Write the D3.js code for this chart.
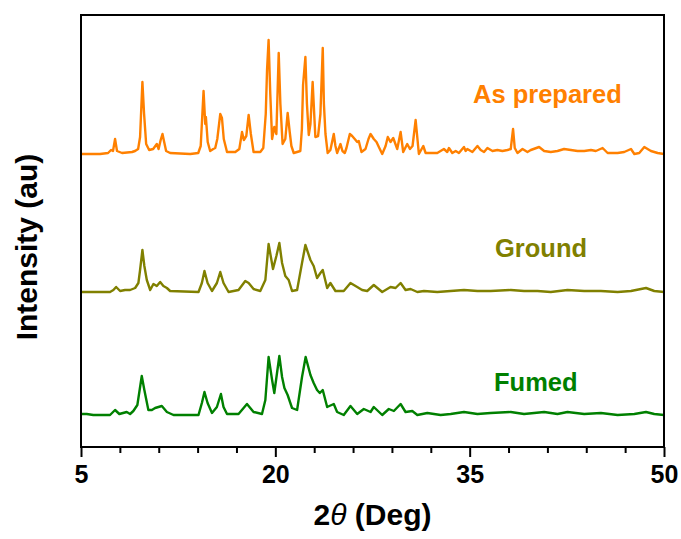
<!DOCTYPE html>
<html>
<head>
<meta charset="utf-8">
<script src="https://cdn.jsdelivr.net/npm/d3@7"></script>
<style>
  html, body { margin: 0; padding: 0; background: #fff; }
  svg { display: block; }
</style>
</head>
<body>
<svg id="chart" width="681" height="539"></svg>
<script>
// ---- Data (2theta in degrees, intensity in arbitrary units above each trace baseline) ----
const seriesNames = ["As prepared", "Ground", "Fumed"];
const seriesColors = ["#FF8000", "#808000", "#008000"];
const seriesOffsets = [293, 155, 32];

const asPrepared2theta = [5.00,6.47,7.09,7.32,7.47,7.63,7.78,8.17,8.94,9.17,9.41,9.56,9.74,9.87,10.03,10.26,10.57,10.85,10.99,11.15,11.29,11.42,11.57,11.88,13.43,14.05,14.24,14.46,14.59,14.64,14.78,14.97,15.21,15.36,15.52,15.75,15.88,16.02,16.27,16.91,17.22,17.43,17.57,17.76,17.94,18.11,18.32,18.84,19.07,19.26,19.36,19.48,19.61,19.75,19.92,20.08,20.26,20.39,20.56,20.77,20.95,21.11,21.24,21.42,21.93,22.05,22.14,22.32,22.44,22.58,22.71,22.88,23.02,23.09,23.30,23.48,23.66,23.75,23.87,24.04,24.25,24.51,24.64,24.77,25.03,25.18,25.36,25.49,25.75,25.93,26.13,26.32,26.44,26.65,26.96,27.19,27.35,27.60,27.81,27.99,28.25,28.51,28.68,28.89,29.10,29.41,29.67,29.87,30.18,30.39,30.59,30.83,31.08,31.42,31.60,31.99,32.50,33.01,33.27,33.40,33.66,33.92,34.17,34.56,34.69,34.82,35.21,35.60,35.85,36.11,36.37,36.76,37.14,37.53,37.92,38.17,38.35,38.48,38.69,39.08,39.46,39.72,40.36,40.75,41.26,41.78,42.29,42.81,43.33,43.84,44.36,44.74,45.26,45.65,46.42,46.93,47.45,47.71,48.09,48.48,48.99,49.51,50.00];
const asPreparedIntensity = [0,0,1,4,3,15,3,1,2,3,5,17,72,40,10,4,5,10,5,14,20,12,3,1,0,1,8,63,30,37,12,3,5,6,15,40,36,15,2,2,5,22,14,18,39,20,2,2,6,40,84,114,60,15,27,20,101,50,10,15,41,22,8,1,3,25,69,97,50,19,30,72,35,17,18,40,106,50,20,1,4,20,8,1,10,3,1,6,20,18,15,12,13,2,5,15,20,15,12,7,0,8,17,12,16,5,22,2,10,5,8,34,0,8,1,1,1,5,2,6,1,3,1,7,3,5,2,8,4,2,6,3,4,3,4,5,25,6,1,5,2,4,7,3,2,3,5,4,3,3,4,3,6,1,1,2,5,0,1,7,3,1,0];

const ground2theta = [5.00,7.24,7.50,7.71,8.02,8.40,8.79,9.18,9.43,9.56,9.74,9.89,10.08,10.34,10.59,10.85,11.11,11.36,11.63,11.88,14.07,14.33,14.53,14.77,15.11,15.49,15.75,16.00,16.39,17.16,17.68,17.94,18.32,18.84,19.23,19.48,19.82,20.08,20.31,20.52,20.77,21.03,21.29,21.68,22.06,22.32,22.71,22.96,23.22,23.48,23.66,24.00,24.25,24.64,25.28,25.80,26.32,26.70,27.09,27.60,28.25,28.89,29.28,29.67,30.05,30.44,30.96,31.47,32.50,33.53,34.56,35.60,36.62,38.17,39.20,40.23,41.26,42.55,43.84,45.13,46.42,47.45,48.61,49.25,50.00];
const groundIntensity = [0,0,2,5,1,2,2,4,9,22,42,26,12,2,8,6,10,6,4,1,0,9,21,9,1,9,20,9,0,2,11,9,3,1,12,48,23,36,49,29,16,12,1,2,29,47,32,26,14,19,22,4,9,1,1,9,5,2,1,7,0,5,4,9,2,3,0,1,0,1,2,1,1,2,1,1,0,2,1,1,0,1,4,1,0];

const fumed2theta = [5.00,5.44,5.95,7.24,7.63,7.96,8.53,8.79,9.04,9.35,9.69,9.89,10.20,10.47,10.72,10.98,11.24,11.63,12.14,14.07,14.33,14.53,14.77,15.11,15.49,15.80,16.00,16.27,17.16,17.55,17.81,18.32,18.97,19.23,19.48,19.75,19.92,20.13,20.31,20.52,20.70,20.95,21.29,21.68,22.06,22.34,22.71,22.96,23.22,23.43,23.66,24.00,24.51,24.77,25.28,25.80,26.32,26.83,27.35,27.60,28.25,28.76,29.15,29.67,30.05,30.57,30.96,31.73,32.76,33.53,34.56,35.60,36.62,38.17,39.20,40.75,41.78,42.55,43.84,45.13,46.42,47.71,48.61,49.25,50.00];
const fumedIntensity = [1,1,0,0,5,1,3,1,4,10,39,25,5,5,7,8,9,3,0,0,12,23,12,2,8,21,8,1,1,7,11,3,1,15,58,35,22,42,59,38,27,20,7,5,38,58,40,32,25,22,25,8,11,3,0,9,1,6,3,8,0,6,4,11,3,4,0,2,0,1,3,1,2,3,1,3,1,3,1,2,0,1,3,1,0];

const xMajorTicks = [5, 20, 35, 50];
const xMinorTicks = [8, 11, 14, 17, 23, 26, 29, 32, 38, 41, 44, 47];

// ---- Layout ----
const svg = d3.select("#chart");
const pL = 81, pR = 664, pT = 15, pB = 447;

const x = d3.scaleLinear().domain([5, 50]).range([pL, pR]);
const y = d3.scaleLinear().domain([0, 432]).range([pB, pT]);

const seriesData = [
  d3.zip(asPrepared2theta, asPreparedIntensity),
  d3.zip(ground2theta, groundIntensity),
  d3.zip(fumed2theta, fumedIntensity)
];

svg.append("clipPath").attr("id", "plotclip")
  .append("rect").attr("x", pL).attr("y", pT).attr("width", pR - pL).attr("height", pB - pT);

const g = svg.append("g").attr("clip-path", "url(#plotclip)");
seriesData.forEach((d, i) => {
  const line = d3.line().x(p => x(p[0])).y(p => y(p[1] + seriesOffsets[i]));
  g.append("path")
    .datum(d)
    .attr("fill", "none")
    .attr("stroke", seriesColors[i])
    .attr("stroke-width", 2.4)
    .attr("stroke-linejoin", "round")
    .attr("d", line);
});

// Frame
svg.append("rect")
  .attr("x", pL).attr("y", pT)
  .attr("width", pR - pL).attr("height", pB - pT)
  .attr("fill", "none").attr("stroke", "#000").attr("stroke-width", 2);

// X axis (major)
const xAxis = d3.axisBottom(x).tickValues(xMajorTicks).tickSize(10).tickPadding(8).tickFormat(d3.format("d"));
const ax = svg.append("g").attr("transform", `translate(0,${pB})`).call(xAxis);
ax.select(".domain").remove();
ax.selectAll(".tick line").attr("stroke", "#000").attr("stroke-width", 2);
ax.selectAll(".tick text")
  .attr("font-family", "'Liberation Sans', Arial, sans-serif")
  .attr("font-weight", "bold")
  .attr("font-size", 25)
  .attr("fill", "#000");

// X axis (minor)
const axMinor = d3.axisBottom(x).tickValues(xMinorTicks).tickSize(6).tickFormat("");
const am = svg.append("g").attr("transform", `translate(0,${pB})`).call(axMinor);
am.select(".domain").remove();
am.selectAll(".tick line").attr("stroke", "#000").attr("stroke-width", 2);

// Axis titles
const xt = svg.append("text")
  .attr("x", (pL + pR) / 2).attr("y", 525)
  .attr("text-anchor", "middle")
  .attr("font-family", "'Liberation Sans', Arial, sans-serif")
  .attr("font-weight", "bold").attr("font-size", 30).attr("fill", "#000");
xt.append("tspan").text("2");
xt.append("tspan").attr("font-style", "italic").attr("font-weight", "normal").text("θ");
xt.append("tspan").text(" (Deg)");

svg.append("text")
  .attr("transform", `translate(37,247) rotate(-90)`)
  .attr("text-anchor", "middle")
  .attr("font-family", "'Liberation Sans', Arial, sans-serif")
  .attr("font-weight", "bold").attr("font-size", 30).attr("fill", "#000")
  .text("Intensity (au)");

// Series labels
const labelPos = [[473, 103], [495, 257], [494, 391]];
seriesNames.forEach((n, i) => {
  svg.append("text")
    .attr("x", labelPos[i][0]).attr("y", labelPos[i][1])
    .attr("font-family", "'Liberation Sans', Arial, sans-serif")
    .attr("font-weight", "bold").attr("font-size", 25.5)
    .attr("fill", seriesColors[i])
    .text(n);
});
</script>
</body>
</html>
